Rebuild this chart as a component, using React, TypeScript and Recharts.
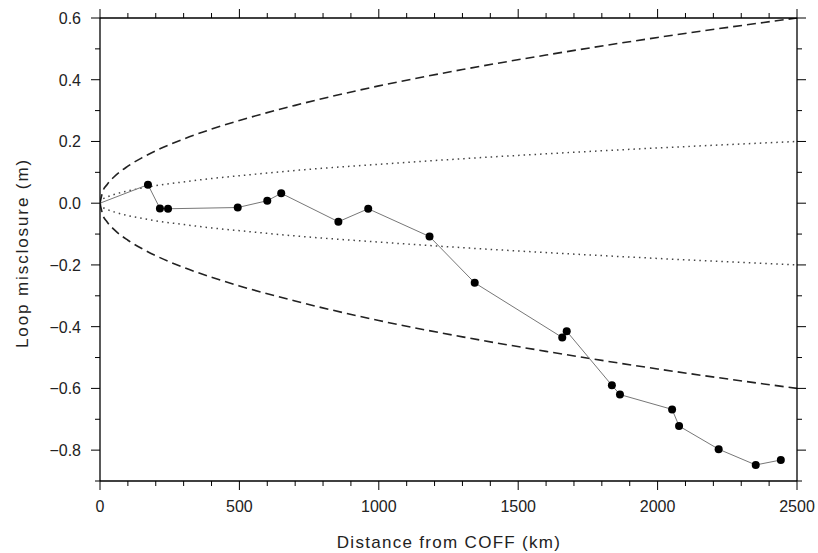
import React from 'react';
import { LineChart, Line, XAxis, YAxis } from 'recharts';

// loop misclosure vs distance
const distKm = [0, 172, 215, 244, 494, 600, 650, 855, 962, 1182, 1344, 1658, 1674, 1836, 1865, 2052, 2077, 2219, 2352, 2442];
const misclosure = [0, 0.06, -0.017, -0.018, -0.014, 0.008, 0.032, -0.06, -0.018, -0.108, -0.258, -0.435, -0.415, -0.59, -0.62, -0.668, -0.722, -0.797, -0.848, -0.832];

// envelope curves
const envX = [0, 10, 25, 50, 100, 150, 200, 300, 400, 500, 700, 1000, 1300, 1600, 2000, 2500];
const outerEnv = [0, 0.038, 0.06, 0.085, 0.12, 0.147, 0.17, 0.208, 0.24, 0.268, 0.317, 0.38, 0.433, 0.48, 0.537, 0.6];
const innerEnv = [0, 0.013, 0.02, 0.028, 0.04, 0.049, 0.057, 0.069, 0.08, 0.089, 0.106, 0.126, 0.144, 0.16, 0.179, 0.2];

const xTicks = [0, 100, 200, 300, 400, 500, 600, 700, 800, 900, 1000, 1100, 1200, 1300, 1400, 1500, 1600, 1700, 1800, 1900, 2000, 2100, 2200, 2300, 2400, 2500];
const yTicks = [-0.9, -0.8, -0.7, -0.6, -0.5, -0.4, -0.3, -0.2, -0.1, 0, 0.1, 0.2, 0.3, 0.4, 0.5, 0.6];

const points = distKm.map((x, i) => ({ x, y: misclosure[i] }));
const upperOuter = envX.map((x, i) => ({ x, y: outerEnv[i] }));
const lowerOuter = envX.map((x, i) => ({ x, y: -outerEnv[i] }));
const upperInner = envX.map((x, i) => ({ x, y: innerEnv[i] }));
const lowerInner = envX.map((x, i) => ({ x, y: -innerEnv[i] }));

const FONT = '"Liberation Sans", Arial, sans-serif';
const isMajorX = (v: number) => v % 500 === 0;
const isMajorY = (v: number) => Math.round(v * 10) % 2 === 0;
const fmtY = (v: number) => v.toFixed(1).replace('-', '\u2212');

const BottomTick = (props: any) => {
  const { x, y, payload } = props;
  const major = isMajorX(payload.value);
  return (
    <g>
      <line x1={x} x2={x} y1={y} y2={y + (major ? 9 : 5)} stroke="#000" strokeWidth={1} />
      {major && (
        <text x={x} y={y + 31} textAnchor="middle" fontSize={16} fontFamily={FONT} fill="#222">
          {payload.value}
        </text>
      )}
    </g>
  );
};

const TopTick = (props: any) => {
  const { x, y, payload } = props;
  const major = isMajorX(payload.value);
  return <line x1={x} x2={x} y1={y} y2={y - (major ? 9 : 5)} stroke="#000" strokeWidth={1} />;
};

const LeftTick = (props: any) => {
  const { x, y, payload } = props;
  const major = isMajorY(payload.value);
  return (
    <g>
      <line x1={x} x2={x - (major ? 9 : 5)} y1={y} y2={y} stroke="#000" strokeWidth={1} />
      {major && (
        <text x={x - 19} y={y + 6} textAnchor="end" fontSize={16} fontFamily={FONT} fill="#222">
          {fmtY(payload.value)}
        </text>
      )}
    </g>
  );
};

const RightTick = (props: any) => {
  const { x, y, payload } = props;
  const major = isMajorY(payload.value);
  return <line x1={x} x2={x + (major ? 9 : 5)} y1={y} y2={y} stroke="#000" strokeWidth={1} />;
};

const DataDot = (props: any) => {
  const { cx, cy, index } = props;
  if (index === 0) return <g key={`d${index}`} />;
  return <circle key={`d${index}`} cx={cx} cy={cy} r={4} fill="#000" stroke="none" />;
};

const App: React.FC = () => {
  const axisLine = { stroke: '#000', strokeWidth: 1.3 };
  return (
    <div style={{ position: 'absolute', left: 0, top: 0, width: 818, height: 553, background: '#fff' }}>
      <LineChart width={818} height={553} margin={{ top: 0, right: 0, bottom: 0, left: 0 }}>
        <XAxis xAxisId="b" dataKey="x" type="number" domain={[0, 2500]} ticks={xTicks} interval={0}
          orientation="bottom" height={72} tickSize={0} tickMargin={0} tickLine={false}
          axisLine={axisLine} tick={<BottomTick />} allowDataOverflow />
        <XAxis xAxisId="t" dataKey="x" type="number" domain={[0, 2500]} ticks={xTicks} interval={0}
          orientation="top" height={18} tickSize={0} tickMargin={0} tickLine={false}
          axisLine={axisLine} tick={<TopTick />} allowDataOverflow />
        <YAxis yAxisId="l" type="number" domain={[-0.9, 0.6]} ticks={yTicks} interval={0}
          orientation="left" width={100} tickSize={0} tickMargin={0} tickLine={false}
          axisLine={axisLine} tick={<LeftTick />} allowDataOverflow />
        <YAxis yAxisId="r" type="number" domain={[-0.9, 0.6]} ticks={yTicks} interval={0}
          orientation="right" width={21} tickSize={0} tickMargin={0} tickLine={false}
          axisLine={axisLine} tick={<RightTick />} allowDataOverflow />

        <Line xAxisId="b" yAxisId="l" data={upperOuter} dataKey="y" type="monotone" stroke="#222"
          strokeWidth={1.6} strokeDasharray="9 5" dot={false} isAnimationActive={false} />
        <Line xAxisId="b" yAxisId="l" data={lowerOuter} dataKey="y" type="monotone" stroke="#222"
          strokeWidth={1.6} strokeDasharray="9 5" dot={false} isAnimationActive={false} />
        <Line xAxisId="b" yAxisId="l" data={upperInner} dataKey="y" type="monotone" stroke="#444"
          strokeWidth={1.5} strokeDasharray="1.5 4" dot={false} isAnimationActive={false} />
        <Line xAxisId="b" yAxisId="l" data={lowerInner} dataKey="y" type="monotone" stroke="#444"
          strokeWidth={1.5} strokeDasharray="1.5 4" dot={false} isAnimationActive={false} />
        <Line xAxisId="b" yAxisId="l" data={points} dataKey="y" type="linear" stroke="#777"
          strokeWidth={1} dot={<DataDot />} activeDot={false} isAnimationActive={false} />

        <text x={449} y={548} textAnchor="middle" fontSize={17} letterSpacing={1.3} fontFamily={FONT} fill="#222">
          Distance from COFF (km)
        </text>
        <text x={28} y={253} textAnchor="middle" fontSize={17} letterSpacing={1.9} fontFamily={FONT} fill="#222"
          transform="rotate(-90 28 253)">
          Loop misclosure (m)
        </text>
      </LineChart>
    </div>
  );
};

export default App;
